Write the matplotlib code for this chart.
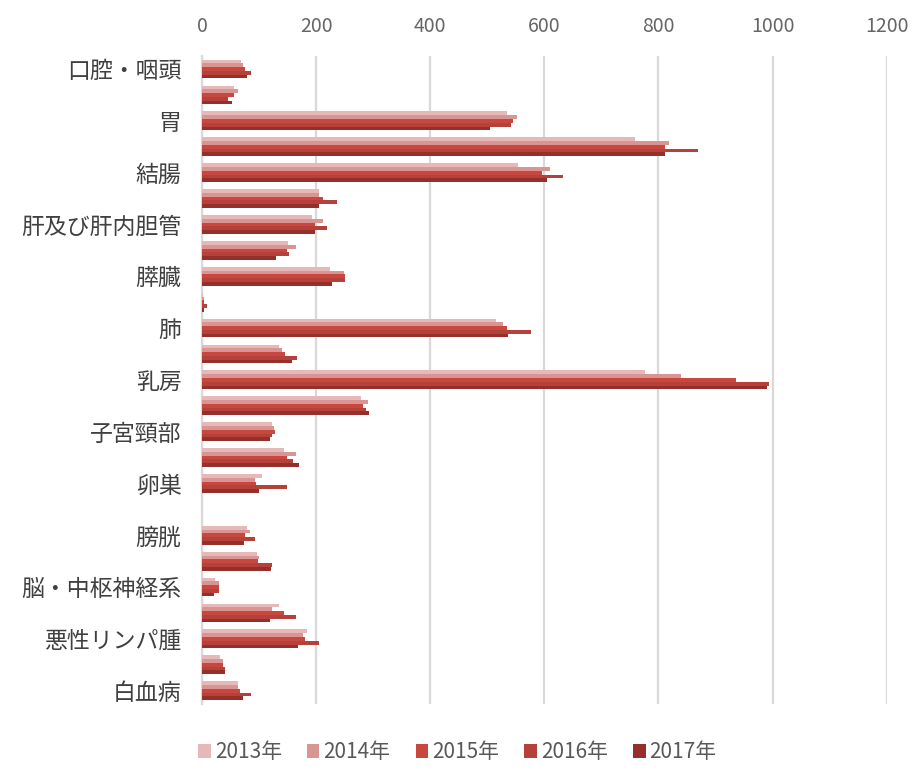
import matplotlib
matplotlib.use("Agg")
import matplotlib.pyplot as plt
import numpy as np

plt.rcParams['font.family'] = ['Noto Sans CJK JP', 'DejaVu Sans']

categories = ["口腔・咽頭", "食道", "胃", "大腸", "結腸", "直腸", "肝及び肝内胆管",
              "胆のう・胆管", "膵臓", "喉頭", "肺", "皮膚", "乳房", "子宮", "子宮頸部",
              "子宮体部", "卵巣", "前立腺", "膀胱", "腎・尿路", "脳・中枢神経系",
              "甲状腺", "悪性リンパ腫", "多発性骨髄腫", "白血病"]

years = ["2013年", "2014年", "2015年", "2016年", "2017年"]

v2013 = [68, 55, 535, 758, 554, 204, 192, 150, 224, 2, 515, 134, 776, 278, 122, 143, 105, 0, 78, 96, 23, 134, 183, 32, 63]
v2014 = [72, 63, 552, 818, 609, 205, 211, 165, 248, 3, 528, 140, 840, 291, 125, 165, 92, 0, 84, 99, 30, 122, 177, 37, 62]
v2015 = [75, 56, 545, 812, 595, 212, 198, 148, 250, 3, 534, 145, 936, 282, 128, 149, 94, 0, 75, 97, 29, 143, 180, 36, 66]
v2016 = [86, 45, 541, 869, 632, 236, 218, 153, 250, 8, 577, 166, 994, 288, 123, 160, 148, 0, 93, 122, 29, 165, 205, 40, 86]
v2017 = [79, 52, 505, 812, 604, 204, 197, 130, 227, 3, 537, 158, 991, 292, 118, 169, 99, 0, 73, 121, 20, 119, 168, 40, 72]

series = [v2013, v2014, v2015, v2016, v2017]
colors = ['#E6B9B8', '#D99594', '#C8473F', '#B5413A', '#952F2B']

fig = plt.figure(figsize=(9.15, 7.69), dpi=100)
ax = fig.add_axes([0.221, 0.085, 0.748, 0.842])

n = len(categories)
y = np.arange(n)
bh = 0.145
for i, (vals, c, lab) in enumerate(zip(series, colors, years)):
    ax.barh(y + (i - 2) * bh, vals, height=bh, color=c, label=lab, zorder=3)

ax.set_xlim(0, 1200)
ax.set_ylim(n - 0.5, -0.5)
ax.set_xticks(np.arange(0, 1201, 200))
ax.xaxis.tick_top()
ax.tick_params(axis='x', length=0, labelsize=14, labelcolor='#666666', pad=14)
ax.set_yticks(y)
ax.set_yticklabels([c if i % 2 == 0 else "" for i, c in enumerate(categories)])
ax.tick_params(axis='y', length=0, labelsize=16.5, labelcolor='#404040', pad=15)

ax.grid(axis='x', color='#D9D9D9', linewidth=1.6, zorder=0)
for s in ['top', 'right', 'bottom']:
    ax.spines[s].set_visible(False)
ax.spines['left'].set_color('#D9D9D9')
ax.spines['left'].set_linewidth(1.6)

leg = fig.legend(loc='lower center', bbox_to_anchor=(0.5, -0.017), ncol=5, frameon=False,
                 fontsize=15, handlelength=0.6, handleheight=0.6, handletextpad=0.2,
                 columnspacing=1.2)
for t in leg.get_texts():
    t.set_color('#595959')

fig.savefig("out.png", dpi=100, facecolor='white')
